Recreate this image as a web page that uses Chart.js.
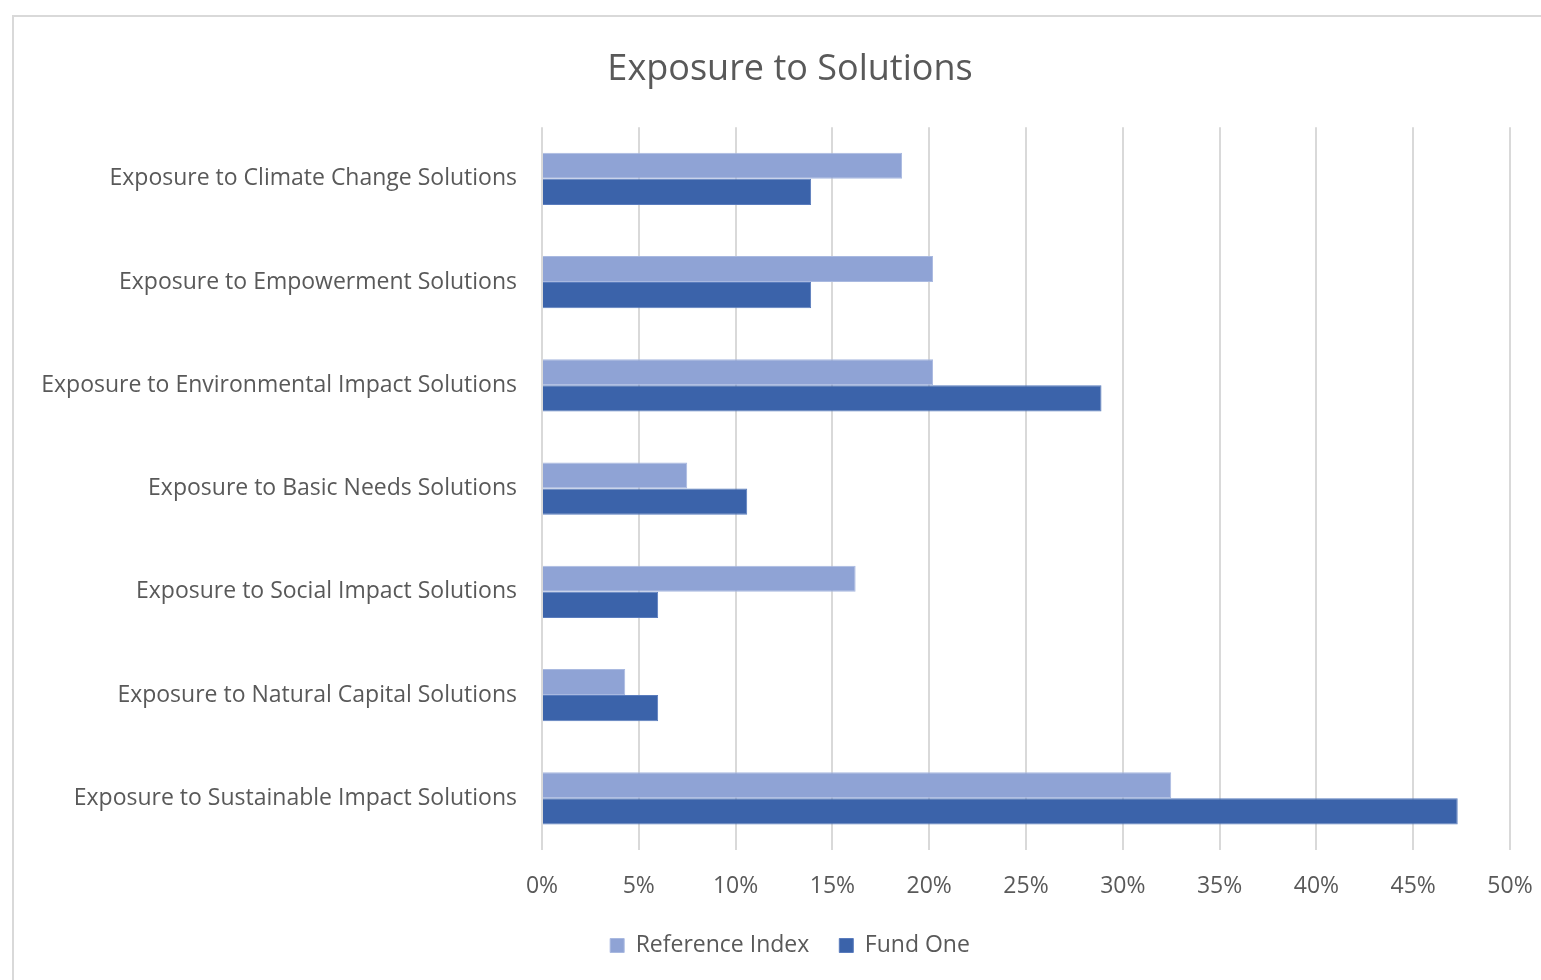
<!DOCTYPE html>
<html>
<head>
<meta charset="utf-8">
<title>Exposure to Solutions</title>
<script src="https://cdn.jsdelivr.net/npm/chart.js@4/dist/chart.umd.min.js"></script>
<style>
  html,body{margin:0;padding:0;background:#fff;overflow:hidden;width:1541px;height:980px}
  #frame{position:absolute;left:12px;top:15px;width:1556px;height:980px;border-left:2px solid #d9d9d9;border-top:2px solid #d9d9d9;box-sizing:border-box}
  #wrap{position:absolute;left:12px;top:15px;width:1556px;height:965px}
</style>
</head>
<body>
<div id="frame"></div>
<div id="wrap"><canvas id="chart"></canvas></div>
<script>
// data (percent)
const categories = [
  'Exposure to Climate Change Solutions',
  'Exposure to Empowerment Solutions',
  'Exposure to Environmental Impact Solutions',
  'Exposure to Basic Needs Solutions',
  'Exposure to Social Impact Solutions',
  'Exposure to Natural Capital Solutions',
  'Exposure to Sustainable Impact Solutions'
];
const referenceIndex = [18.6, 20.2, 20.2, 7.5, 16.2, 4.3, 32.5];
const fundOne = [13.9, 13.9, 28.9, 10.6, 6.0, 6.0, 47.3];
const xTicks = [0, 5, 10, 15, 20, 25, 30, 35, 40, 45, 50];

const FONT = "'Open Sans', 'Noto Sans', sans-serif";
const GREY = '#595959';

Chart.defaults.font.family = FONT;
Chart.defaults.color = GREY;

new Chart(document.getElementById('chart'), {
  type: 'bar',
  data: {
    labels: categories,
    datasets: [
      {label:'Reference Index', data:referenceIndex, backgroundColor:'#8fa3d5', borderColor:'#a9b9e0', borderWidth:1},
      {label:'Fund One', data:fundOne, backgroundColor:'#3b63aa', borderColor:'#5a7cbd', borderWidth:1}
    ]
  },
  options: {
    indexAxis: 'y',
    responsive: true,
    maintainAspectRatio: false,
    animation: false,
    categoryPercentage: 0.505,
    barPercentage: 1.0,
    layout: {padding:{left:0, right:0, top:0, bottom:13}},
    plugins: {
      title: {display:true, text:'Exposure to Solutions', color:GREY, font:{size:36, weight:'normal'}, padding:{top:33, bottom:36}},
      legend: {
        position:'bottom',
        labels:{boxWidth:14, boxHeight:14, font:{size:23}, color:GREY, padding:30}
      },
      tooltip:{enabled:false}
    },
    scales: {
      x: {
        min:0, max:50,
        afterBuildTicks: s => { s.ticks = xTicks.map(v => ({value:v})); },
        afterFit: s => { s.height = 54; },
        ticks:{callback:v => v + '%', font:{size:23}, color:GREY, padding:23},
        grid:{color:'#d9d9d9', lineWidth:2, drawTicks:false},
        border:{display:false}
      },
      y: {
        afterFit: s => { s.width = 530; },
        ticks:{font:{size:23}, color:GREY, padding:25},
        grid:{display:false, drawTicks:false},
        border:{display:false}
      },
      // empty right margin so the plot ends at the 50% line while title/legend stay centred on the frame
      yRight: {
        type:'category', position:'right', labels:categories,
        afterFit: s => { s.width = 58; },
        ticks:{display:false},
        grid:{display:false, drawTicks:false},
        border:{display:false}
      }
    }
  }
});
</script>
</body>
</html>
